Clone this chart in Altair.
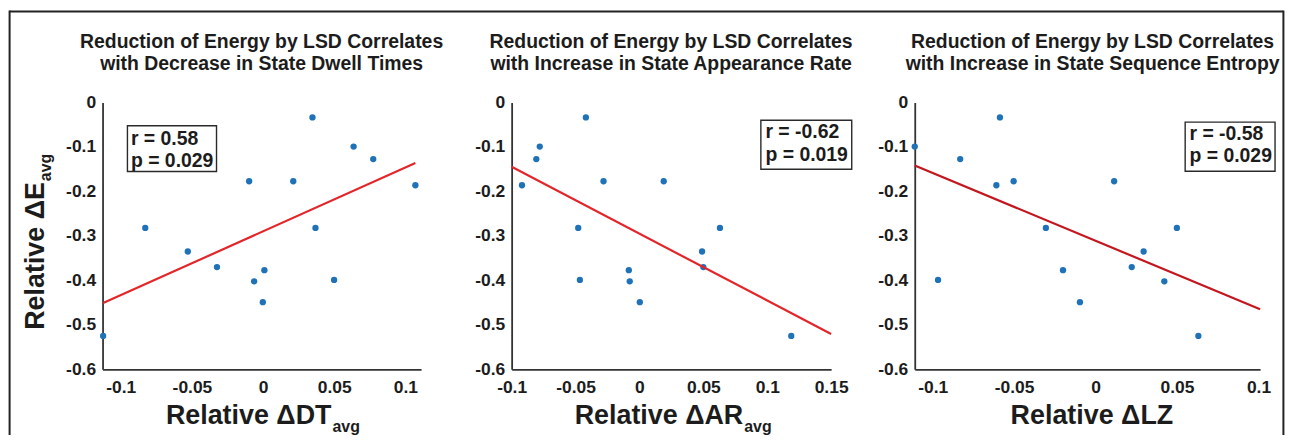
import altair as alt
import pandas as pd

FONT = "Liberation Sans"
INK = "#1c1c1c"
AXIS_INK = "#333333"
FRAME_INK = "#222222"
BLUE = "#1f72b8"
LINE_COLORS = ["#e3262a", "#e3262a", "#c3171f"]

# ---------------- text ----------------
panel_titles = [
    ["Reduction of Energy by LSD Correlates", "with Decrease in State Dwell Times"],
    ["Reduction of Energy by LSD Correlates", "with Increase in State Appearance Rate"],
    ["Reduction of Energy by LSD Correlates", "with Increase in State Sequence Entropy"],
]
x_title_main = ["Relative \u0394DT", "Relative \u0394AR", "Relative \u0394LZ"]
x_title_sub = ["avg", "avg", ""]
y_title_main = "Relative \u0394E"
y_title_sub = "avg"
stats_r = ["r = 0.58", "r = -0.62", "r = -0.58"]
stats_p = ["p = 0.029", "p = 0.019", "p = 0.029"]

# ---------------- data (one entry per subject) ----------------
delta_E = [-0.0335, -0.099, -0.127, -0.177, -0.177, -0.186, -0.282, -0.282,
           -0.335, -0.370, -0.377, -0.402, -0.399, -0.449, -0.525]
delta_DT = [0.0347, 0.0636, 0.0774, -0.0098, 0.0212, 0.107, -0.0828, 0.0368,
            -0.0529, -0.0324, 0.0009, -0.0063, 0.0499, -0.0002, -0.1124]
delta_AR = [-0.0419, -0.078, -0.0807, -0.0281, 0.019, -0.0919, -0.0479, 0.063,
            0.049, 0.050, -0.0083, -0.0076, -0.0466, 0.0003, 0.1188]
delta_LZ = [-0.0587, -0.111, -0.0831, -0.0503, 0.0114, -0.0609, -0.0305, 0.0499,
            0.0295, 0.0222, -0.020, 0.0422, -0.0967, -0.0096, 0.0631]

# least-squares lines (end points)
fit_x = [[-0.1124, 0.107], [-0.10, 0.15], [-0.111, 0.101]]
fit_y = [[-0.451, -0.136], [-0.1445, -0.5205], [-0.1415, -0.465]]

x_domains = [[-0.1128, 0.111], [-0.10, 0.15], [-0.111, 0.101]]
x_ticks = [[-0.1, -0.05, 0, 0.05, 0.1],
           [-0.1, -0.05, 0, 0.05, 0.1, 0.15],
           [-0.1, -0.05, 0, 0.05, 0.1]]
y_domain = [-0.6, 0]
y_ticks = [0, -0.1, -0.2, -0.3, -0.4, -0.5, -0.6]

x_values = [delta_DT, delta_AR, delta_LZ]

LABEL_EXPR = "replace(format(datum.value, '~g'), '\u2212', '-')"

one = pd.DataFrame({"k": [0]})


def text(s, x, y, size, align="left", angle=0):
    return alt.Chart(one).mark_text(
        text=s, font=FONT, fontSize=size, fontWeight="bold", align=align,
        baseline="alphabetic", angle=angle, color=INK
    ).encode(x=alt.value(x), y=alt.value(y))


def rule(x1, x2, y1, y2, color, w):
    return alt.Chart(one).mark_rule(color=color, strokeWidth=w).encode(
        x=alt.value(x1), x2=alt.value(x2), y=alt.value(y1), y2=alt.value(y2))


def box(x1, x2, y1, y2):
    return alt.Chart(one).mark_rect(fill="white", stroke="#2a2a2a", strokeWidth=1.4).encode(
        x=alt.value(x1), x2=alt.value(x2), y=alt.value(y1), y2=alt.value(y2))


H = 268
widths = [326.6, 321, 347]
x_ranges = [[0, 320], None, None]
title_cx = [159.8, 160.2, 178.7]
box_pos = [(25, 114.5, 23.3, 69.3), (250.4, 341.7, 17.7, 67.0), (271.7, 362.0, 19.7, 69.0)]
stat_pos = [(28.5, 42.5, 64.5), (255.0, 36.0, 58.7), (276.0, 37.7, 60.0)]
xt_pos = [(230.0, "right"), (232.7, "right"), (178.0, "center")]


def panel(i):
    df = pd.DataFrame({"x": x_values[i], "y": delta_E})
    sc = dict(domain=x_domains[i], nice=False, zero=False)
    if x_ranges[i] is not None:
        sc["range"] = x_ranges[i]
    xaxis = alt.Axis(values=x_ticks[i], title=None, labelExpr=LABEL_EXPR, labelFont=FONT,
                     labelFontSize=17.5, labelFontWeight="bold", labelColor=INK,
                     labelPadding=18, labelBaseline="middle", ticks=False, tickSize=0,
                     grid=False, domainColor=AXIS_INK, domainWidth=1.8,
                     labelFlush=False, labelOverlap=False)
    yaxis = alt.Axis(values=y_ticks, title=None, labelExpr=LABEL_EXPR, labelFont=FONT,
                     labelFontSize=17.5, labelFontWeight="bold", labelColor=INK,
                     labelPadding=7, labelBaseline="middle", ticks=False, tickSize=0,
                     grid=False, domainColor=AXIS_INK, domainWidth=1.8,
                     labelFlush=False, labelOverlap=False)
    pts = alt.Chart(df).mark_circle(size=40, color=BLUE, opacity=1).encode(
        x=alt.X("x:Q", scale=alt.Scale(**sc), axis=xaxis),
        y=alt.Y("y:Q", scale=alt.Scale(domain=y_domain, nice=False, zero=False), axis=yaxis),
    )
    fit = alt.Chart(pd.DataFrame({"x": fit_x[i], "y": fit_y[i]})).mark_line(
        color=LINE_COLORS[i], strokeWidth=2.2).encode(x="x:Q", y="y:Q")

    layers = [pts, fit]
    bx = box_pos[i]
    layers.append(box(*bx))
    sx, sy1, sy2 = stat_pos[i]
    layers.append(text(stats_r[i], sx, sy1, 19.5))
    layers.append(text(stats_p[i], sx, sy2, 19.5))
    # panel title
    layers.append(text(panel_titles[i][0], title_cx[i], -54.8, 19.5, align="center"))
    layers.append(text(panel_titles[i][1], title_cx[i], -32.5, 19.5, align="center"))
    # x-axis title with subscript
    xx, al = xt_pos[i]
    layers.append(text(x_title_main[i], xx, H + 54.5, 27, align=al))
    if x_title_sub[i]:
        layers.append(text(x_title_sub[i], xx + 1, H + 62.5, 16))
    if i == 0:
        layers.append(text(y_title_main, -59, 228.3, 27, angle=270))
        layers.append(text(y_title_sub, -52, 79.0, 16, angle=270))
        layers.append(rule(-93.4, 1186, -91.5, -91.5, FRAME_INK, 2))
        layers.append(rule(-93.4, -93.4, -92.5, 334, FRAME_INK, 2))
    if i == 2:
        layers.append(rule(370.4, 370.4, -92.5, 334, FRAME_INK, 2))
    return alt.layer(*layers).properties(width=widths[i], height=H)


chart = alt.hconcat(panel(0), panel(1), panel(2), spacing=84, bounds="flush").configure_view(
    stroke=None
).properties(padding={"left": 0, "top": 0, "right": 0, "bottom": 0}, background="white")

chart.save("out.html", embed_options={"renderer": "svg", "actions": False})
